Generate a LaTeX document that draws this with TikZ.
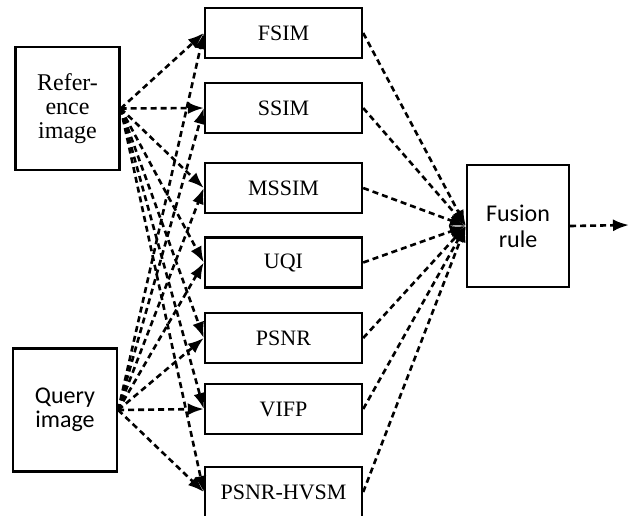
\documentclass[tikz,border=0pt]{standalone}
\usepackage{fontspec}
\setmainfont{Liberation Serif}
\newfontfamily\calibri{Carlito}
\usepackage{tikz}
\usetikzlibrary{arrows.meta,positioning}

\begin{document}
\begin{tikzpicture}[x=0.5pt,y=-0.5pt,
    box/.style={draw, line width=1.2pt, inner sep=1pt, align=center},
    inbox/.style={box, minimum width=52pt, minimum height=61.5pt},
    metric/.style={box, minimum width=78.5pt, minimum height=25pt, font=\rmfamily\fontsize{11}{13}\selectfont},
    link/.style={line width=1.3pt, dash pattern=on 3pt off 2pt, -{Latex[length=8pt,width=6pt]}}]
    \useasboundingbox (0,0) rectangle (630,515);

    % Inputs
    \node[inbox, font=\rmfamily\fontsize{12}{12}\selectfont] (ref) at (67.5,108.5) {Refer-\\ence\\image};
    \node[inbox, font=\calibri\fontsize{12}{12}\selectfont] (query) at (65,410) {Query\\image};

    % Quality metrics
    \foreach \name/\txt/\y in {fsim/FSIM/33, ssim/SSIM/108, mssim/MSSIM/188, uqi/UQI/262.5,
                               psnr/PSNR/338, vifp/VIFP/409, hvsm/PSNR-HVSM/492} {
        \node[metric] (\name) at (283.5,\y) {\txt};
    }

    % Fusion
    \node[inbox, minimum width=51pt, minimum height=61pt, font=\calibri\fontsize{12}{13}\selectfont] (fusion) at (518,226) {Fusion\\rule};
    \coordinate (out) at (629,225);

    % Connections
    \foreach \m in {fsim,ssim,mssim,uqi,psnr,vifp,hvsm} {
        \draw[link] (ref.east) -- (\m.west);
        \draw[link] (query.east) -- (\m.west);
        \draw[link] (\m.east) -- (fusion.west);
    }
    \draw[link] (fusion.east) -- (out);
\end{tikzpicture}
\end{document}
